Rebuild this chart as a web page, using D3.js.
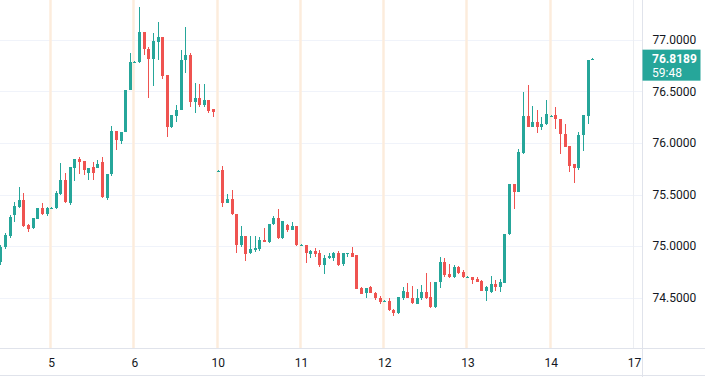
<!DOCTYPE html>
<html>
<head>
<meta charset="utf-8">
<script src="https://cdn.jsdelivr.net/npm/d3@7"></script>
<style>
    body { margin: 0; background: #fff; }
    svg { display: block; font-family: Roboto, "Open Sans", sans-serif; }
</style>
</head>
<body>
<script>

// DATA (hourly candles, day 4 partly visible on the left)

let dayLabels = ["5", "6", "10", "11", "12", "13", "14", "17"];
let dayStartIndex = [11, 29, 47, 65, 83, 101, 119, 137];
let priceTicks = [74.5, 75.0, 75.5, 76.0, 76.5, 77.0];
let countdown = "59:48";

let open = [
    74.844, 74.990, 75.097, 75.301, 75.378, 75.446, 75.204, 75.174, 75.262, 75.369, 75.310,
    75.364, 75.369, 75.504, 75.640, 75.417, 75.757, 75.844, 75.825, 75.708, 75.767, 75.757, 75.815, 75.466, 75.699, 76.116, 76.019, 76.106, 76.514,
    76.786, 76.786, 77.077, 76.912, 76.815, 76.980, 77.029, 76.660, 76.155, 76.262, 76.320, 76.805, 76.854, 76.398, 76.437, 76.369, 76.417, 76.330,
    75.728, 75.738, 75.417, 75.456, 75.310, 75.009, 75.097, 74.932, 74.961, 74.971, 75.058, 75.038, 75.213, 75.271, 75.077, 75.204, 75.155, 75.194,
    75.008, 75.009, 74.922, 74.951, 74.932, 74.815, 74.883, 74.883, 74.932, 74.825, 74.926, 74.932, 74.912, 74.592, 74.543, 74.602, 74.543, 74.495,
    74.466, 74.466, 74.378, 74.349, 74.495, 74.553, 74.495, 74.437, 74.495, 74.553, 74.504, 74.407, 74.650, 74.844, 74.728, 74.699, 74.796, 74.747,
    74.699, 74.699, 74.679, 74.660, 74.563, 74.553, 74.631, 74.602, 74.640, 75.116, 75.602, 75.524, 75.903, 76.262, 76.155, 76.204, 76.155, 76.184,
    76.262, 76.271, 76.233, 76.087, 75.971, 75.796, 75.757, 76.077, 76.262, 76.805
];

let high = [
    75.009, 75.126, 75.301, 75.427, 75.572, 75.514, 75.213, 75.271, 75.369, 75.417, 75.378,
    75.378, 75.534, 75.805, 75.708, 75.767, 75.844, 75.864, 75.825, 75.757, 75.815, 75.835, 75.864, 75.699, 76.165, 76.116, 76.106, 76.514, 76.873,
    76.795, 77.320, 77.077, 76.932, 77.068, 77.174, 77.029, 76.660, 76.271, 76.369, 76.903, 77.126, 76.873, 76.582, 76.572, 76.572, 76.417, 76.330,
    75.738, 75.776, 75.504, 75.543, 75.310, 75.194, 75.097, 75.097, 75.097, 75.087, 75.174, 75.213, 75.291, 75.359, 75.242, 75.213, 75.233, 75.194,
    75.016, 75.009, 74.961, 74.980, 74.961, 74.912, 74.932, 74.941, 74.951, 74.932, 74.932, 74.990, 74.912, 74.602, 74.592, 74.611, 74.553, 74.514,
    74.475, 74.495, 74.388, 74.504, 74.602, 74.640, 74.611, 74.582, 74.621, 74.738, 74.650, 74.650, 74.893, 74.883, 74.825, 74.815, 74.805, 74.767,
    74.706, 74.699, 74.699, 74.670, 74.611, 74.708, 74.670, 74.679, 75.116, 75.602, 75.602, 75.941, 76.495, 76.563, 76.359, 76.320, 76.252, 76.417,
    76.272, 76.349, 76.233, 76.184, 75.971, 75.796, 76.106, 76.271, 76.805, 76.825
];

let low = [
    74.815, 74.971, 75.077, 75.233, 75.369, 75.184, 75.136, 75.165, 75.262, 75.301, 75.291,
    75.359, 75.359, 75.495, 75.417, 75.398, 75.631, 75.699, 75.689, 75.640, 75.640, 75.757, 75.466, 75.446, 75.679, 75.932, 75.990, 76.106, 76.514,
    76.780, 76.776, 76.854, 76.437, 76.553, 76.805, 76.621, 76.058, 76.145, 76.204, 76.320, 76.679, 76.349, 76.291, 76.349, 76.349, 76.291, 76.252,
    75.724, 75.378, 75.417, 75.301, 74.932, 74.990, 74.854, 74.922, 74.941, 74.951, 75.038, 75.029, 75.204, 75.068, 75.068, 75.136, 75.155, 75.000,
    75.002, 74.835, 74.883, 74.893, 74.796, 74.728, 74.873, 74.854, 74.805, 74.805, 74.893, 74.893, 74.582, 74.534, 74.495, 74.543, 74.475, 74.437,
    74.460, 74.369, 74.320, 74.339, 74.475, 74.495, 74.437, 74.437, 74.475, 74.485, 74.398, 74.398, 74.592, 74.699, 74.689, 74.689, 74.728, 74.689,
    74.694, 74.631, 74.650, 74.563, 74.466, 74.543, 74.563, 74.553, 74.640, 75.106, 75.359, 75.524, 75.893, 76.155, 76.155, 76.097, 76.126, 76.174,
    76.258, 76.136, 75.893, 75.961, 75.718, 75.611, 75.738, 75.922, 76.184, 76.805
];

let close = [
    74.990, 75.106, 75.281, 75.388, 75.446, 75.194, 75.165, 75.271, 75.369, 75.310, 75.369,
    75.369, 75.514, 75.640, 75.427, 75.767, 75.844, 75.815, 75.738, 75.757, 75.708, 75.796, 75.475, 75.699, 76.116, 76.029, 76.106, 76.514, 76.786,
    76.788, 77.077, 76.912, 76.815, 76.990, 77.029, 76.650, 76.155, 76.271, 76.320, 76.805, 76.854, 76.398, 76.437, 76.369, 76.417, 76.310, 76.301,
    75.733, 75.417, 75.456, 75.310, 75.009, 75.097, 74.922, 74.971, 74.980, 75.058, 75.038, 75.213, 75.271, 75.077, 75.242, 75.155, 75.194, 75.009,
    75.010, 74.932, 74.951, 74.922, 74.815, 74.883, 74.903, 74.932, 74.815, 74.932, 74.930, 74.893, 74.582, 74.534, 74.592, 74.543, 74.495, 74.456,
    74.468, 74.378, 74.349, 74.504, 74.563, 74.495, 74.446, 74.495, 74.553, 74.495, 74.407, 74.650, 74.844, 74.718, 74.699, 74.796, 74.738, 74.699,
    74.701, 74.670, 74.650, 74.563, 74.602, 74.631, 74.602, 74.650, 75.116, 75.602, 75.524, 75.912, 76.262, 76.155, 76.204, 76.155, 76.184, 76.281,
    76.265, 76.233, 76.087, 75.961, 75.776, 75.757, 76.077, 76.271, 76.805, 76.8189
];

// LAYOUT

let width = 705;
let height = 377;
let plotRight = 642;
let plotBottom = 348;
let upColor = "#26a69a";
let downColor = "#ef5350";

let candles = open.map((o, i) => ({ i: i, o: o, h: high[i], l: low[i], c: close[i] }));
let lastIndex = candles.length - 1;

let svg = d3.select("body").append("svg")
    .attr("width", width)
    .attr("height", height);

let x_scale = d3.scaleLinear()
    .domain([11, 137])
    .range([51.2, 634]);

let y_scale = d3.scaleLinear()
    .domain([74.5, 77])
    .range([297.5, 40]);

svg.append("clipPath")
    .attr("id", "plot-clip")
    .append("rect")
    .attr("x", 0).attr("y", 0)
    .attr("width", plotRight).attr("height", plotBottom);

let plot = svg.append("g").attr("clip-path", "url(#plot-clip)");

// horizontal grid at price ticks
plot.selectAll("line.grid")
    .data(priceTicks)
    .join("line")
    .attr("class", "grid")
    .attr("x1", 0).attr("x2", plotRight)
    .attr("y1", d => Math.round(y_scale(d)) + 0.5)
    .attr("y2", d => Math.round(y_scale(d)) + 0.5)
    .attr("stroke", "#f0f3fa");

// session breaks (orange for past sessions, plain grid line for the future one)
plot.selectAll("line.session")
    .data(dayStartIndex)
    .join("line")
    .attr("class", "session")
    .attr("x1", d => Math.round(x_scale(d)) - 0.5)
    .attr("x2", d => Math.round(x_scale(d)) - 0.5)
    .attr("y1", 0).attr("y2", plotBottom)
    .attr("stroke", d => d > lastIndex ? "#eceef2" : "#fcecdc")
    .attr("stroke-width", d => d > lastIndex ? 1 : 2.5);

// candles
let candle = plot.selectAll("g.candle")
    .data(candles)
    .join("g")
    .attr("class", "candle")
    .attr("fill", d => d.c >= d.o ? upColor : downColor);

candle.append("rect")
    .attr("x", d => Math.round(x_scale(d.i)))
    .attr("width", 1)
    .attr("y", d => Math.round(y_scale(d.h)))
    .attr("height", d => Math.max(1, Math.round(y_scale(d.l)) - Math.round(y_scale(d.h))));

candle.append("rect")
    .attr("x", d => Math.round(x_scale(d.i)) - 1)
    .attr("width", 3)
    .attr("y", d => Math.round(y_scale(Math.max(d.o, d.c))))
    .attr("height", d => Math.max(1, Math.round(y_scale(Math.min(d.o, d.c))) - Math.round(y_scale(Math.max(d.o, d.c)))));

// AXES

let y_axis = d3.axisRight(y_scale)
    .tickValues(priceTicks)
    .tickFormat(d3.format(".4f"))
    .tickSize(0)
    .tickPadding(10);

let gy = svg.append("g")
    .attr("class", "y axis")
    .attr("transform", "translate(" + (plotRight + 0.5) + ",0)")
    .call(y_axis);

gy.select(".domain").remove();

let x_axis = d3.axisBottom(x_scale)
    .tickValues(dayStartIndex)
    .tickFormat((d, i) => dayLabels[i])
    .tickSize(0)
    .tickPadding(10);

let gx = svg.append("g")
    .attr("class", "x axis")
    .attr("transform", "translate(0," + plotBottom + ")")
    .call(x_axis);

gx.select(".domain").remove();

svg.selectAll(".axis text")
    .attr("fill", "#131722")
    .style("font-size", "12px")
    .style("font-family", "Roboto, sans-serif");

// axis borders
svg.append("line")
    .attr("x1", 0).attr("x2", width)
    .attr("y1", plotBottom + 0.5).attr("y2", plotBottom + 0.5)
    .attr("stroke", "#e0e3eb");

svg.append("line")
    .attr("x1", 0).attr("x2", width)
    .attr("y1", height - 1.5).attr("y2", height - 1.5)
    .attr("stroke", "#e0e3eb");

svg.append("line")
    .attr("x1", plotRight + 0.5).attr("x2", plotRight + 0.5)
    .attr("y1", 0).attr("y2", height)
    .attr("stroke", "#e0e3eb");

// last price label
let last = candles[lastIndex];
let lastY = y_scale(last.c);

svg.append("rect")
    .attr("x", plotRight + 0.5)
    .attr("y", lastY - 9)
    .attr("width", 58)
    .attr("height", 31)
    .attr("fill", upColor);

svg.append("text")
    .attr("x", 652)
    .attr("y", lastY + 4.5)
    .attr("fill", "#fff")
    .style("font-size", "12px")
    .style("font-weight", "bold")
    .text(d3.format(".4f")(last.c));

svg.append("text")
    .attr("x", 652)
    .attr("y", lastY + 18)
    .attr("fill", "#fff")
    .style("font-size", "12px")
    .text(countdown);

</script>
</body>
</html>
